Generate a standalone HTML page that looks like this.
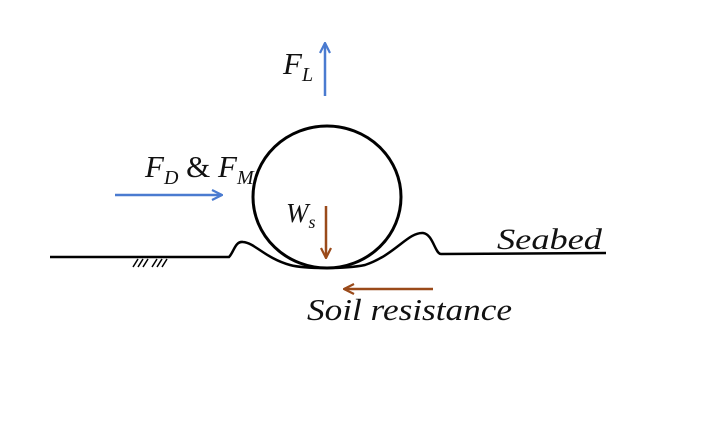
<!DOCTYPE html>
<html><head><style>
html,body{margin:0;padding:0;background:#fff;}
svg{display:block;}
text{font-family:"Liberation Serif",serif;font-style:italic;fill:#111;}
</style></head><body>
<svg width="709" height="438" viewBox="0 0 709 438" xmlns="http://www.w3.org/2000/svg">
<defs>
<marker id="bh" markerWidth="12" markerHeight="12" refX="11" refY="6" orient="auto" markerUnits="userSpaceOnUse"><path d="M1,1 L11,6 L1,11" fill="none" stroke="#4a7bd0" stroke-width="2.2"/></marker>
<marker id="rh" markerWidth="12" markerHeight="12" refX="11" refY="6" orient="auto" markerUnits="userSpaceOnUse"><path d="M1,1 L11,6 L1,11" fill="none" stroke="#9a4a1a" stroke-width="2.2"/></marker>
</defs>
<ellipse cx="327" cy="197" rx="74" ry="71" fill="none" stroke="#000" stroke-width="3"/>
<path d="M50,257 L229,257 C234,252 235,241 243,242 C255,243 265,258 290,265 C305,269 345,269 365,265 C395,255 408,232 423,233 C433,234 435,254 441,254 L606,253" fill="none" stroke="#000" stroke-width="2.5"/>
<g stroke="#000" stroke-width="1.5">
<line x1="133" y1="267" x2="138" y2="259"/><line x1="138" y1="267" x2="143" y2="259"/><line x1="143" y1="267" x2="148" y2="259"/>
<line x1="152" y1="267" x2="157" y2="259"/><line x1="157" y1="267" x2="162" y2="259"/><line x1="162" y1="267" x2="167" y2="259"/>
</g>
<line x1="325" y1="96" x2="325" y2="43" stroke="#4a7bd0" stroke-width="2.5" marker-end="url(#bh)"/>
<line x1="115" y1="195" x2="222" y2="195" stroke="#4a7bd0" stroke-width="2.5" marker-end="url(#bh)"/>
<line x1="326" y1="206" x2="326" y2="258" stroke="#9a4a1a" stroke-width="2.5" marker-end="url(#rh)"/>
<line x1="433" y1="289" x2="344" y2="289" stroke="#9a4a1a" stroke-width="2.5" marker-end="url(#rh)"/>
<text x="283" y="74" font-size="31">F<tspan font-size="20" dy="7">L</tspan></text>
<text x="145" y="177" font-size="31">F<tspan font-size="20" dy="7">D</tspan><tspan dy="-7" font-style="normal"> &amp; </tspan>F<tspan font-size="20" dy="7">M</tspan></text>
<text x="286" y="222" font-size="27">W<tspan font-size="18" dy="6">s</tspan></text>
<text x="497" y="249" font-size="30" textLength="105" lengthAdjust="spacingAndGlyphs">Seabed</text>
<text x="307" y="320" font-size="31" textLength="205" lengthAdjust="spacingAndGlyphs">Soil resistance</text>
</svg>
</body></html>
